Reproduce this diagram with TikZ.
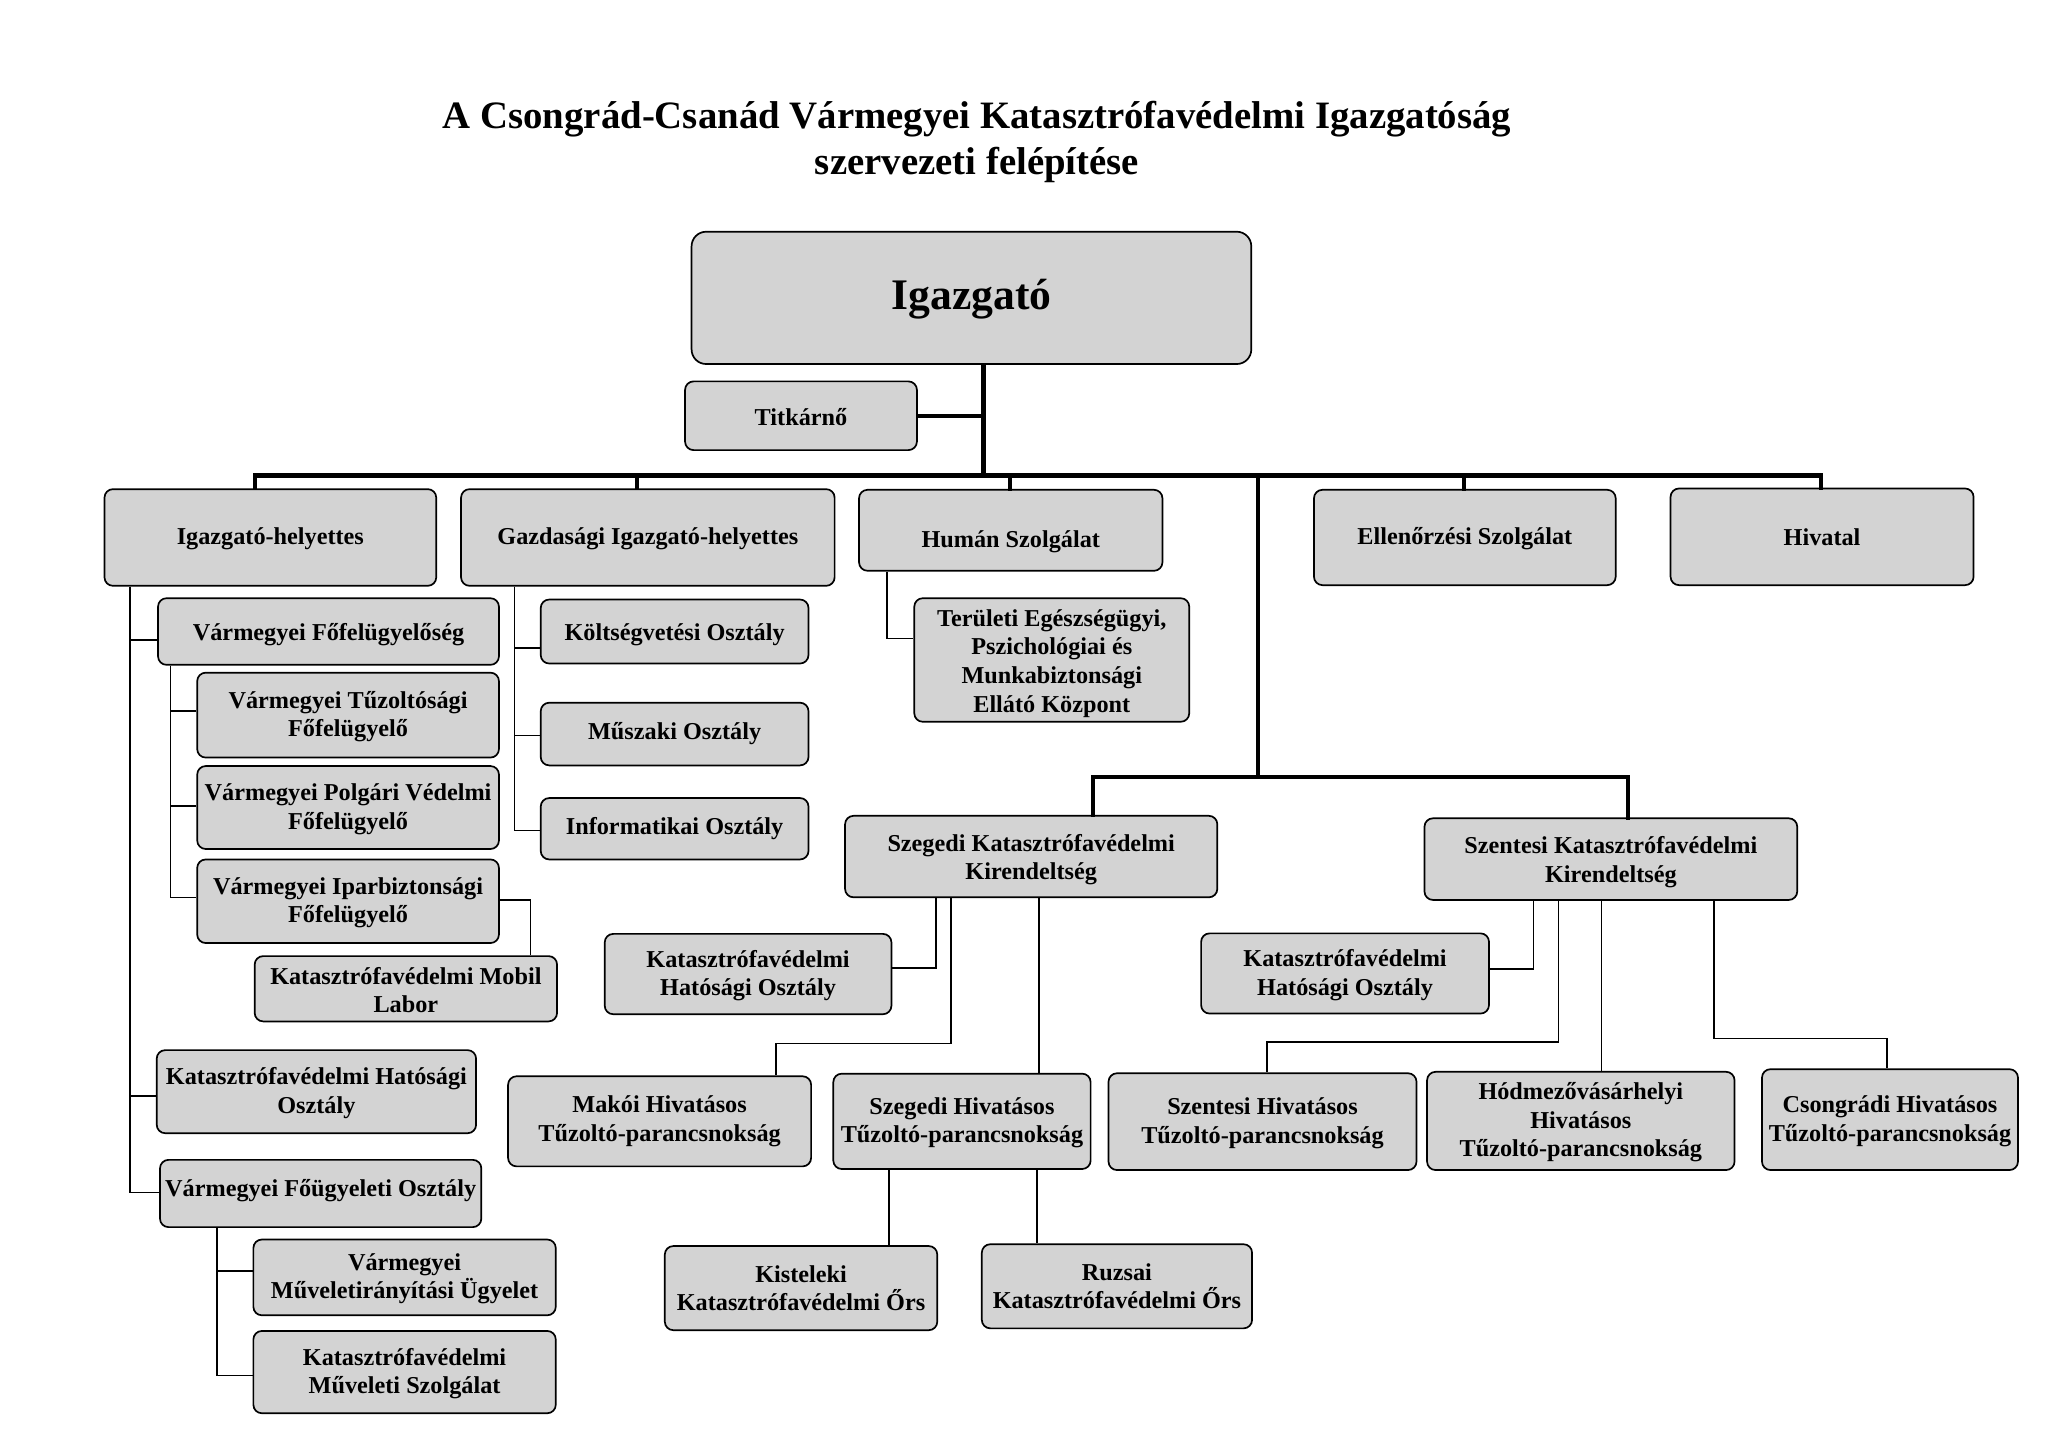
\documentclass[tikz,border=0pt]{standalone}
\usepackage{fontspec}
\setmainfont{Liberation Serif}
\definecolor{boxgray}{RGB}{211,211,211}
\def\tdy{-0.6pt}
\tikzset{ty/.store in=\tdy}
\newcommand{\obox}[7][]{%
  \node[box,#1,minimum width={(#5-#3)*0.53893pt},minimum height={(#6-#4)*0.53893pt}] (#2) at ({(#3+#5)/2},{(#4+#6)/2}) {};
  \node[boxtext,#1,yshift=\tdy] (#2-t) at (#2.center) {#7};}
\begin{document}
\begin{tikzpicture}[x=0.189413mm,y=-0.189413mm,
  box/.style={draw=black,line width=0.7pt,fill=boxgray,rounded corners=3.5pt,inner sep=0pt},
  boxtext/.style={align=center,inner sep=0pt,font=\bfseries\fontsize{10}{11.8}\selectfont},
  bus/.style={line width=1.7pt,line cap=rect},
  link/.style={line width=0.6pt}]
\useasboundingbox (0,0) rectangle (1568,1109);
\fill[white] (0,0) rectangle (1568,1109);

\node[align=center,font=\bfseries\fontsize{16}{18.8}\selectfont] (title) at (748,108.5)
  {A Csongrád-Csanád Vármegyei Katasztrófavédelmi Igazgatóság\\szervezeti felépítése};

% ---- boxes ----
\obox[rounded corners=6pt,font=\bfseries\fontsize{18}{21}\selectfont]{igazgato}{529.5}{177.4}{958}{278.7}{Igazgató}
\obox{titkar}{524.5}{292}{702}{344.6}{Titkárnő}
\obox{ih}{80}{374.5}{334}{448.5}{Igazgató-helyettes}
\obox{gih}{353}{374.5}{639}{448.5}{Gazdasági Igazgató-helyettes}
\obox[ty=-4.8pt]{human}{657.7}{375}{890}{437}{Humán Szolgálat}
\obox{ellen}{1006}{375}{1237}{448}{Ellenőrzési Szolgálat}
\obox[ty=0pt]{hiv}{1279}{374}{1511}{448}{Hivatal}

\obox[ty=-1.2pt]{fofel}{121}{458}{382}{509}{Vármegyei Főfelügyelőség}
\obox{tuz}{151}{515}{382}{580}{Vármegyei Tűzoltósági\\Főfelügyelő}
\obox{polg}{151}{586.5}{382}{650}{Vármegyei Polgári Védelmi\\Főfelügyelő}
\obox{ipar}{151}{658}{382}{722}{Vármegyei Iparbiztonsági\\Főfelügyelő}
\obox{mobil}{195}{732}{426.5}{782}{Katasztrófavédelmi Mobil\\Labor}
\obox{khl}{120}{804}{364.5}{867.6}{Katasztrófavédelmi Hatósági\\Osztály}
\obox[ty=1.2pt]{fougy}{122.5}{888}{368.5}{939.5}{Vármegyei Főügyeleti Osztály}
\obox{muvir}{194}{949}{425.5}{1007}{Vármegyei\\Műveletirányítási Ügyelet}
\obox{muvsz}{194}{1019}{425.5}{1082}{Katasztrófavédelmi\\Műveleti Szolgálat}

\obox[ty=-1.2pt]{kolt}{414}{459}{619}{508}{Költségvetési Osztály}
\obox[ty=0pt]{musz}{414}{538}{619}{586}{Műszaki Osztály}
\obox[ty=0pt]{info}{414}{611}{619}{658}{Informatikai Osztály}

\obox[ty=-1.4pt]{terul}{700}{458}{910.5}{552.6}{Területi Egészségügyi,\\Pszichológiai és\\Munkabiztonsági\\Ellátó Központ}

\obox[ty=-1.2pt]{szkir}{647}{624.6}{932}{687}{Szegedi Katasztrófavédelmi\\Kirendeltség}
\obox[ty=-1.2pt]{snkir}{1090.6}{626.5}{1376}{689}{Szentesi Katasztrófavédelmi\\Kirendeltség}
\obox{khsz}{463}{715}{682.5}{776.5}{Katasztrófavédelmi\\Hatósági Osztály}
\obox{khsn}{919.6}{714.6}{1140}{776}{Katasztrófavédelmi\\Hatósági Osztály}
\obox[ty=0pt]{mako}{389}{824}{621}{893}{Makói Hivatásos\\Tűzoltó-parancsnokság}
\obox{szhiv}{638}{822}{835}{895}{Szegedi Hivatásos\\Tűzoltó-parancsnokság}
\obox{snhiv}{848.7}{821.7}{1084.5}{895.8}{Szentesi Hivatásos\\Tűzoltó-parancsnokság}
\obox{hodm}{1092.6}{820.6}{1328}{895.8}{Hódmezővásárhelyi\\Hivatásos\\Tűzoltó-parancsnokság}
\obox{csong}{1349}{818.6}{1545}{895.8}{Csongrádi Hivatásos\\Tűzoltó-parancsnokság}
\obox[ty=0pt]{kist}{509}{954}{717.6}{1018.4}{Kisteleki\\Katasztrófavédelmi Őrs}
\obox[ty=0pt]{ruzs}{751.7}{952.6}{958.6}{1017}{Ruzsai\\Katasztrófavédelmi Őrs}

% ---- junction coordinates ----
\coordinate (jA) at (753,364);
\coordinate (bL) at (195,364);
\coordinate (bR) at (1394,364);
\coordinate (kB) at (963,595);
\coordinate (mk) at (594,799);
\coordinate (sh) at (970,797.6);
\coordinate (cs) at (1444.7,795);

% ---- thick connectors ----
\draw[bus] (igazgato.south -| jA) -- (jA);
\draw[bus] (titkar.east) -- (titkar.east -| jA);
\draw[bus] (bL) -- (bR);
\draw[bus] (bL) -- (ih.north -| bL);
\draw[bus] (bL -| 488,0) -- (gih.north -| 488,0);
\draw[bus] (bL -| 773,0) -- (human.north -| 773,0);
\draw[bus] (bL -| 1121,0) -- (ellen.north -| 1121,0);
\draw[bus] (bR) -- (hiv.north -| bR);
\draw[bus] (bL -| kB) -- (kB);
\draw[bus] (szkir.north -| 836.5,0) |- (kB);
\draw[bus] (snkir.north -| 1246.6,0) |- (kB);

% ---- thin connectors ----
\draw[link] (ih.south -| 99.7,0) |- (fofel.west |- 0,490);
\draw[link] (ih.south -| 99.7,0) |- (khl.west |- 0,839);
\draw[link] (ih.south -| 99.7,0) |- (fougy.west |- 0,913);

\draw[link] (fofel.south -| 130.6,0) |- (tuz.west |- 0,544.5);
\draw[link] (fofel.south -| 130.6,0) |- (polg.west |- 0,617);
\draw[link] (fofel.south -| 130.6,0) |- (ipar.west |- 0,687);
\draw[link] (ipar.east |- 0,689) -| (mobil.north -| 406,0);

\draw[link] (fougy.south -| 166,0) |- (muvir.west |- 0,973);
\draw[link] (fougy.south -| 166,0) |- (muvsz.west |- 0,1053);

\draw[link] (gih.south -| 394,0) |- (kolt.west |- 0,496);
\draw[link] (gih.south -| 394,0) |- (musz.west |- 0,563);
\draw[link] (gih.south -| 394,0) |- (info.west |- 0,636);

\draw[link] (human.south -| 679,0) |- (terul.west |- 0,489);

\draw[link] (szkir.south -| 716.6,0) |- (khsz.east |- 0,741);
\draw[link] (szkir.south -| 728,0) |- (mk) -- (mako.north -| mk);
\draw[link] (szkir.south -| 795.6,0) -- (szhiv.north -| 795.6,0);
\draw[link] (szhiv.south -| 680.7,0) -- (kist.north -| 680.7,0);
\draw[link] (szhiv.south -| 794,0) -- (ruzs.north -| 794,0);

\draw[link] (snkir.south -| 1174,0) |- (khsn.east |- 0,742);
\draw[link] (snkir.south -| 1193,0) |- (sh) -- (snhiv.north -| sh);
\draw[link] (snkir.south -| 1226,0) -- (hodm.north -| 1226,0);
\draw[link] (snkir.south -| 1312.4,0) |- (cs) -- (csong.north -| cs);
\end{tikzpicture}
\end{document}
